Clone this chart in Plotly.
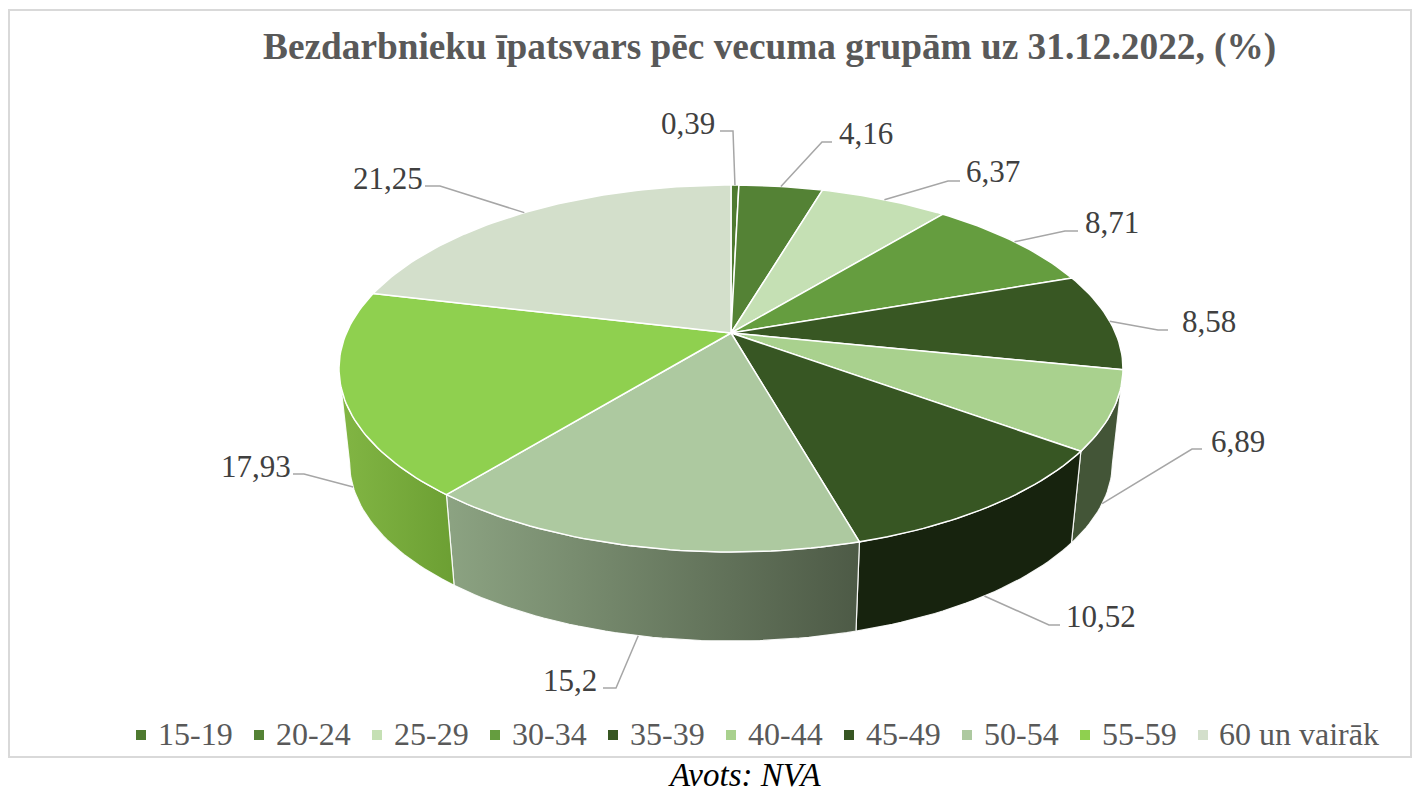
import math
import plotly.graph_objects as go

# ---- data ----
categories = ["15-19", "20-24", "25-29", "30-34", "35-39", "40-44", "45-49", "50-54", "55-59", "60 un vairāk"]
values = [0.39, 4.16, 6.37, 8.71, 8.58, 6.89, 10.52, 15.2, 17.93, 21.25]
value_labels = ["0,39", "4,16", "6,37", "8,71", "8,58", "6,89", "10,52", "15,2", "17,93", "21,25"]

# ---- styles ----
top_colors = ["#4E7A30", "#548235", "#C5E0B4", "#659D3F", "#385723", "#A9D18E", "#375623", "#ADC9A0", "#8FD04F", "#D3DFCB"]
wall_colors = {5: ("#435537", "#435537"), 6: ("#17230E", "#17230E"),
               7: ("#8CA382", "#4D5A46"), 8: ("#82B644", "#6C9F33")}

# ---- label layout in page pixels: label centre, elbow end, elbow start ----
label_pos = [(688, 123), (866, 133), (993, 171), (1112, 222), (1209, 321),
             (1238, 441), (1101, 616), (570, 680), (256, 466), (388, 178)]
elbows = [((720, 131), (733, 131)), ((832, 142), (822, 142)), ((960, 181), (948, 181)),
          ((1078, 231), (1065, 231)), ((1168, 330), (1158, 330)), ((1202, 449), (1192, 449)),
          ((1060, 625), (1049, 625)), ((603, 688), (616, 688)), ((293, 474), (304, 474)),
          ((425, 186), (440, 186))]

# ---- perspective projection of the pie disc ----
CX, CY, A, B, K = 731.0, 333.0, 384.6, 176.6, 0.1935
SHRINK, DROP = 0.973, 95.0
SERIF = "Liberation Serif"
LEGEND_X0, LEGEND_STEP, LEGEND_Y, LEGEND_GAP = 141, 118, 735, 15


def rim(pct):
    t = math.radians(pct * 3.6)
    u, v = math.sin(t), math.cos(t)
    w = 1 + K * v
    return CX + A * u / w, CY - B * v / w


def lower(p):
    return CX + SHRINK * (p[0] - CX), CY + DROP + SHRINK * (p[1] - CY)


def arc(a, b):
    n = max(4, int((b - a) * 3))
    return [rim(a + (b - a) * i / n) for i in range(n + 1)]


starts, acc = [], 0.0
for val in values:
    starts.append(acc)
    acc += val

tangent = 90 + math.degrees(math.asin(K))   # angle where the rim turns from the back to the front
front_a, front_b = tangent / 3.6, (360 - tangent) / 3.6
fig = go.Figure()

# side walls: only the front-facing part of each slice
for i, val in enumerate(values):
    if i not in wall_colors:
        continue
    top = arc(max(starts[i], front_a), min(starts[i] + val, front_b))
    poly = top + [lower(p) for p in reversed(top)] + [top[0]]
    c0, c1 = wall_colors[i]
    kw = dict(fillcolor=c0) if c0 == c1 else dict(
        fillgradient=dict(type="horizontal", colorscale=[[0, c0], [1, c1]]))
    fig.add_trace(go.Scatter(x=[p[0] for p in poly], y=[p[1] for p in poly], mode="lines", fill="toself",
                             line=dict(color="rgba(255,255,255,0.9)", width=1.2), hoverinfo="skip",
                             showlegend=False, **kw))

# top face
for i, val in enumerate(values):
    poly = [(CX, CY)] + arc(starts[i], starts[i] + val) + [(CX, CY)]
    fig.add_trace(go.Scatter(x=[p[0] for p in poly], y=[p[1] for p in poly], mode="lines", fill="toself",
                             fillcolor=top_colors[i], line=dict(color="white", width=1.5),
                             name=categories[i], showlegend=False, hoverinfo="name"))

# leader lines
annotations = []
for i, val in enumerate(values):
    mid = starts[i] + val / 2
    anchor = rim(mid)
    if front_a < mid < front_b:
        anchor = lower(anchor)
    pts = [elbows[i][0], elbows[i][1], anchor]
    fig.add_trace(go.Scatter(x=[p[0] for p in pts], y=[p[1] for p in pts], mode="lines",
                             line=dict(color="#A6A6A6", width=1.5), hoverinfo="skip", showlegend=False))
    annotations.append(dict(x=label_pos[i][0], y=label_pos[i][1], text=value_labels[i], showarrow=False,
                            xanchor="center", yanchor="middle",
                            font=dict(family=SERIF, size=31, color="#404040")))

# legend row
for i, cat in enumerate(categories):
    lx = LEGEND_X0 + LEGEND_STEP * i
    fig.add_trace(go.Scatter(x=[lx], y=[LEGEND_Y], mode="markers", name=cat, showlegend=False,
                             hoverinfo="name", marker=dict(symbol="square", size=10, color=top_colors[i])))
    annotations.append(dict(x=lx + LEGEND_GAP - (1 if i == 9 else 0), y=LEGEND_Y - 1, text=cat, showarrow=False,
                            xanchor="left", yanchor="middle",
                            font=dict(family=SERIF, size=32, color="#595959")))

annotations.append(dict(x=769, y=47, text="<b>Bezdarbnieku īpatsvars pēc vecuma grupām uz 31.12.2022, (%)</b>",
                        showarrow=False, xanchor="center", yanchor="middle",
                        font=dict(family=SERIF, size=37.3, color="#595959")))
annotations.append(dict(x=744.5, y=775, text="<i>Avots: NVA</i>", showarrow=False, xanchor="center", yanchor="middle",
                        font=dict(family=SERIF, size=33, color="#000000")))

fig.update_layout(
    width=1414, height=788, autosize=False,
    margin=dict(l=0, r=0, t=0, b=0),
    paper_bgcolor="white", plot_bgcolor="white",
    xaxis=dict(range=[0, 1414], visible=False, fixedrange=True),
    yaxis=dict(range=[788, 0], visible=False, fixedrange=True),
    annotations=annotations,
    showlegend=False,
    shapes=[dict(type="rect", x0=9, y0=10, x1=1411, y1=757, line=dict(color="#D9D9D9", width=2), layer="below")],
)

fig.write_html("out.html", config=dict(displayModeBar=False),
               post_script="document.body.style.margin='0';document.documentElement.style.overflow='hidden';")
